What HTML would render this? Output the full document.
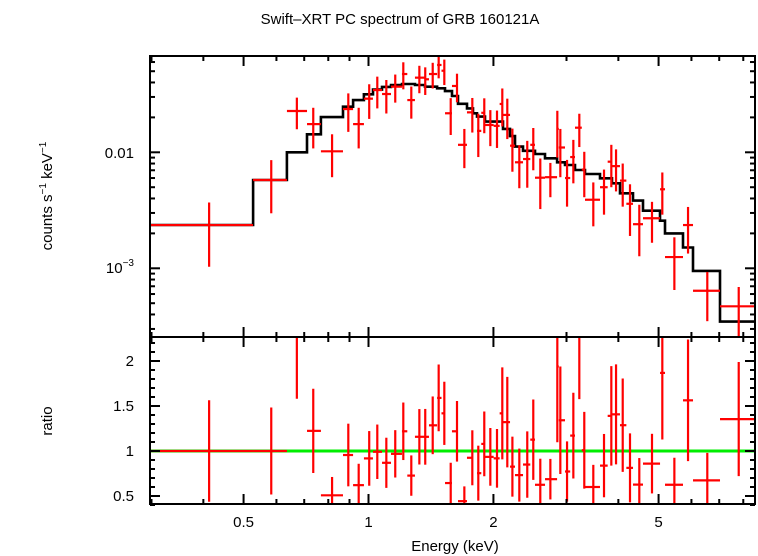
<!DOCTYPE html>
<html><head><meta charset="utf-8"><style>
html,body{margin:0;padding:0;background:#fff;}
svg{display:block;font-family:"Liberation Sans",sans-serif;}
</style></head><body>
<svg id="chart" width="758" height="556" viewBox="0 0 758 556" xmlns="http://www.w3.org/2000/svg">
<defs>
<clipPath id="clipTop"><rect x="150" y="56" width="605" height="281"/></clipPath>
<clipPath id="clipBot"><rect x="150" y="337" width="605" height="167"/></clipPath>
</defs>
<rect width="758" height="556" fill="#fff"/>
<text x="400" y="24" font-size="15" text-anchor="middle">Swift–XRT PC spectrum of GRB 160121A</text>
<text transform="translate(52,196) rotate(-90)" font-size="15" text-anchor="middle">counts s<tspan dy="-6" font-size="10">−1</tspan><tspan dy="6"> keV</tspan><tspan dy="-6" font-size="10">−1</tspan></text>
<text transform="translate(52,421) rotate(-90)" font-size="15" text-anchor="middle">ratio</text>
<text x="455" y="551" font-size="15" text-anchor="middle">Energy (keV)</text>
<g id="gTop"></g>
<g id="gBot"></g>
<g id="gAxes"></g>
</svg>
<script>
const energy=[0.413,0.583,0.672,0.736,0.817,0.894,0.947,1.004,1.050,1.104,1.160,1.213,1.268,1.326,1.370,1.428,1.476,1.523,1.578,1.634,1.702,1.779,1.839,1.901,1.966,2.040,2.101,2.160,2.222,2.309,2.413,2.495,2.594,2.743,2.851,2.899,3.009,3.116,3.221,3.311,3.481,3.694,3.847,3.949,4.098,4.267,4.493,4.821,5.105,5.458,5.888,6.552,7.80];
const counts=[0.00236,0.00577,0.0227,0.0175,0.0102,0.0236,0.0175,0.029,0.0344,0.0318,0.0368,0.0473,0.0282,0.044,0.0426,0.0473,0.0566,0.0505,0.0217,0.0373,0.0116,0.0221,0.0153,0.0219,0.0172,0.0169,0.0261,0.021,0.0114,0.0082,0.00875,0.0116,0.00604,0.0061,0.0159,0.011,0.0060,0.0091,0.0163,0.0071,0.0039,0.0050,0.0083,0.0076,0.0057,0.0036,0.0024,0.0027,0.0048,0.00125,0.00236,0.00064,0.00047];
const countErr=[0.00133,0.00279,0.0069,0.0067,0.0041,0.0086,0.0067,0.0096,0.0105,0.0102,0.010,0.0124,0.0087,0.0117,0.0114,0.0118,0.0132,0.0125,0.0076,0.0103,0.0043,0.0073,0.0062,0.0073,0.0059,0.006,0.0094,0.008,0.0046,0.0033,0.0038,0.0046,0.0028,0.002,0.0069,0.0049,0.0026,0.0037,0.0052,0.003,0.0016,0.0021,0.0033,0.003,0.0023,0.0017,0.00113,0.00104,0.0019,0.0006,0.00102,0.00029,0.00022];
const modelEdges=[0.297,0.527,0.636,0.711,0.768,0.868,0.918,0.975,1.025,1.078,1.133,1.204,1.294,1.368,1.463,1.529,1.589,1.643,1.727,1.786,1.826,1.909,2.109,2.193,2.254,2.357,2.519,2.663,2.847,2.975,3.145,3.324,3.613,3.862,4.036,4.339,4.586,5.041,5.182,5.726,6.053,7.031,8.54];
const modelValues=[0.00236,0.00577,0.0100,0.0143,0.0201,0.0247,0.0282,0.0316,0.0347,0.0366,0.0380,0.0388,0.0380,0.0368,0.0356,0.0337,0.0306,0.0262,0.0239,0.0217,0.0203,0.0184,0.0159,0.0138,0.0112,0.0103,0.00967,0.00888,0.00820,0.00777,0.00704,0.0065,0.00597,0.0054,0.00443,0.00383,0.00314,0.00257,0.00200,0.00151,0.00095,0.000347];
const xTickLabels=["0.5","1","2","5"];
const xTickValues=[0.5,1,2,5];
const ratioTickLabels=["0.5","1","1.5","2"];
const ratioTickValues=[0.5,1,1.5,2];

const NS="http://www.w3.org/2000/svg";
const L=150,R=755,T=56,M=337,B=504;
const xs=e=>368.5+415*Math.log10(e);
const yt=v=>152.3-116*(Math.log10(v)+2);
const yb=r=>451-90*(r-1);
function mk(tag,attrs,parent){const el=document.createElementNS(NS,tag);for(const k in attrs)el.setAttribute(k,attrs[k]);parent.appendChild(el);return el;}
const gTop=document.getElementById('gTop'),gBot=document.getElementById('gBot'),gAx=document.getElementById('gAxes');
gTop.setAttribute('clip-path','url(#clipTop)');gBot.setAttribute('clip-path','url(#clipBot)');

// data bin edges: snap to a model edge when the data point lies inside a model bin alone, else geometric midpoint
function binOf(e){for(let j=0;j<modelValues.length;j++){if(e>=modelEdges[j]&&e<modelEdges[j+1])return j;}return modelValues.length-1;}
const bins=energy.map(binOf);
const lo=[],hi=[];
for(let i=0;i<energy.length;i++){
  const n=energy.length;
  const prevSame=i>0&&bins[i-1]===bins[i];
  const nextSame=i<n-1&&bins[i+1]===bins[i];
  lo.push(prevSame?Math.sqrt(energy[i-1]*energy[i]):(i===0?modelEdges[0]:(bins[i-1]<bins[i]?modelEdges[bins[i]]:Math.sqrt(energy[i-1]*energy[i]))));
  hi.push(nextSame?Math.sqrt(energy[i]*energy[i+1]):(i===n-1?modelEdges[modelEdges.length-1]:(bins[i+1]>bins[i]?modelEdges[bins[i]+1]:Math.sqrt(energy[i]*energy[i+1]))));
}
function modelAt(e){return modelValues[binOf(e)];}

let d="";
for(let j=0;j<modelValues.length;j++){
  const y=yt(modelValues[j]);
  d+=(j===0?"M":"L")+xs(modelEdges[j]).toFixed(1)+","+y.toFixed(1)+"L"+xs(modelEdges[j+1]).toFixed(1)+","+y.toFixed(1);
}
const ml=mk('path',{d:d,fill:'none',stroke:'#000','stroke-width':2.6},gTop);



const gl=mk('line',{x1:L,x2:R,y1:yb(1),y2:yb(1),stroke:'#00ee00','stroke-width':3},gBot);



for(let i=0;i<energy.length;i++){
  const x0=xs(lo[i]),x1=xs(hi[i]),xc=xs(energy[i]);
  const v=counts[i],e=countErr[i];
  const g=mk('g',{stroke:'#ff0000','stroke-width':2.2},gTop);
  
  
  mk('line',{x1:x0,x2:x1,y1:yt(v),y2:yt(v)},g);
  mk('line',{x1:xc,x2:xc,y1:yt(v+e),y2:(v-e>0?yt(v-e):B)},g);
  const m=modelAt(energy[i]);const r=v/m,re=e/m;
  const g2=mk('g',{stroke:'#ff0000','stroke-width':2.2},gBot);
  
  
  mk('line',{x1:x0,x2:x1,y1:yb(r),y2:yb(r)},g2);
  mk('line',{x1:xc,x2:xc,y1:yb(r+re),y2:yb(r-re)},g2);
}

[[T,M],[M,B]].forEach(([t,b],k)=>{
  const fr=mk('rect',{x:L,y:t,width:R-L,height:b-t,fill:'none',stroke:'#000','stroke-width':2},gAx);
  
  
});
const minorX=[0.3,0.4,0.6,0.7,0.8,0.9,3,4,6,7,8];
function xt(e,len){const x=xs(e);
  [[T,1],[M,-1],[M,1],[B,-1]].forEach(([y,s])=>mk('line',{x1:x,x2:x,y1:y,y2:y+s*len,stroke:'#000','stroke-width':2},gAx));}
minorX.forEach(e=>xt(e,5));
xTickValues.forEach((e,i)=>{xt(e,10);
  const t=mk('text',{x:xs(e),y:527,'font-size':15,'text-anchor':'middle'},gAx);t.textContent=xTickLabels[i];
  
  
});
for(let p=-4;p<=-2;p++){for(let k=1;k<=9;k++){const v=k*Math.pow(10,p);const y=yt(v);if(y<T||y>M)continue;
  const len=k===1?10:5;
  mk('line',{x1:L,x2:L+len,y1:y,y2:y,stroke:'#000','stroke-width':2},gAx);
  mk('line',{x1:R,x2:R-len,y1:y,y2:y,stroke:'#000','stroke-width':2},gAx);}}
const t1=mk('text',{x:134,y:158,'font-size':15,'text-anchor':'end'},gAx);t1.textContent="0.01";


const t2=mk('text',{x:134,y:273,'font-size':15,'text-anchor':'end'},gAx);


t2.innerHTML='10<tspan dy="-7" font-size="10">−3</tspan>';
for(let r=0.4;r<=2.3;r+=0.1){const y=yb(r);const maj=Math.abs(r*2-Math.round(r*2))<1e-6;const len=maj?10:5;
  mk('line',{x1:L,x2:L+len,y1:y,y2:y,stroke:'#000','stroke-width':2},gAx);
  mk('line',{x1:R,x2:R-len,y1:y,y2:y,stroke:'#000','stroke-width':2},gAx);}
ratioTickValues.forEach((r,i)=>{const t=mk('text',{x:134,y:yb(r)+5,'font-size':15,'text-anchor':'end'},gAx);t.textContent=ratioTickLabels[i];
  
  
});
</script>
</body></html>
